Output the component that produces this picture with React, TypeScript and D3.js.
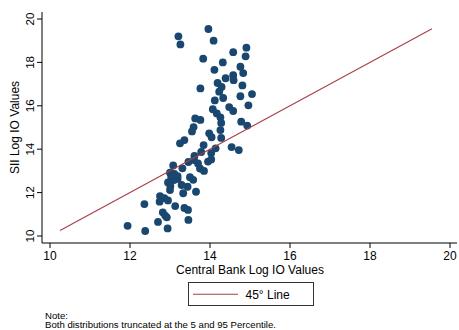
import React from "react";
import * as d3 from "d3";

// Central Bank vs. SII log IO values, one entry per observation
const cbLogIO: number[] = [
  13.21, 13.26, 13.96, 14.09, 14.91, 14.58, 14.89, 13.83, 14.32, 14.11,
  14.76, 14.83, 14.58, 14.39, 14.59, 14.19, 14.29, 14.81, 13.76, 14.23,
  14.33, 14.12, 14.76, 15.05, 14.48, 14.58, 14.96, 14.07, 14.17, 14.26,
  14.28, 14.26, 13.63, 13.76, 13.59, 13.55, 14.78, 14.93, 13.98, 14.04,
  14.28, 13.36, 13.25, 13.84, 14.14, 14.03, 14.54, 14.72, 13.78, 13.61,
  14.03, 13.95, 13.46, 13.6, 13.7, 13.75, 13.85, 13.31, 13.08, 13.0,
  13.11, 13.19, 13.03, 13.19, 13.1, 13.5, 13.58, 12.95, 13.01, 13.29,
  13.44, 13.0, 13.33, 13.65, 12.75, 12.86, 12.95, 12.74, 12.36, 13.13,
  13.36, 13.45, 12.82, 12.88, 12.92, 13.46, 12.7, 11.94, 12.94, 12.38,
];
const siiLogIO: number[] = [
  19.2, 18.83, 19.54, 19.0, 18.68, 18.47, 18.28, 18.17, 18.0, 17.66,
  17.8, 17.51, 17.41, 17.27, 17.18, 17.05, 16.87, 16.94, 16.8, 16.65,
  16.36, 16.25, 16.44, 16.54, 15.94, 15.76, 16.02, 15.84, 15.65, 15.47,
  15.21, 14.88, 15.42, 15.35, 15.02, 14.82, 15.27, 15.09, 14.73, 14.55,
  14.52, 14.42, 14.27, 14.19, 14.04, 13.82, 14.1, 13.96, 13.87, 13.69,
  13.53, 13.43, 13.41, 13.5, 13.34, 13.11, 13.0, 13.12, 13.25, 12.92,
  12.86, 12.76, 12.72, 12.63, 12.58, 12.71, 12.59, 12.47, 12.3, 12.35,
  12.27, 12.12, 11.97, 12.04, 11.84, 11.75, 11.64, 11.58, 11.47, 11.38,
  11.29, 11.2, 11.09, 10.94, 10.86, 10.74, 10.65, 10.47, 10.35, 10.23,
];

// 45-degree reference line endpoints
const lineRange: number[] = [10.25, 19.55];
const xTicks: number[] = [10, 12, 14, 16, 18, 20];
const yTicks: number[] = [10, 12, 14, 16, 18, 20];

const W = 459;
const H = 330;
const NAVY = "#1a476f";
const MAROON = "#a63f47";
const FONT = "'Liberation Sans', Arial, Helvetica, sans-serif";

export default function App() {
  const x = d3.scaleLinear().domain([10, 20]).range([50, 450]);
  const y = d3.scaleLinear().domain([10, 20]).range([236, 19]);

  const axisX = 42;
  const axisY = 243;
  const tickLen = 5;

  const diag = d3
    .line<number>()
    .x((d) => x(d))
    .y((d) => y(d))(lineRange) as string;

  return (
    <svg
      width={W}
      height={H}
      viewBox={`0 0 ${W} ${H}`}
      style={{ position: "absolute", left: 0, top: 0, background: "#fff" }}
      fontFamily={FONT}
    >
      <rect x={0} y={0} width={W} height={H} fill="#fff" />

      {/* points */}
      <g fill={NAVY}>
        {cbLogIO.map((v, i) => (
          <circle key={i} cx={x(v)} cy={y(siiLogIO[i])} r={3.9} />
        ))}
      </g>

      {/* 45 degree line */}
      <path d={diag} fill="none" stroke={MAROON} strokeWidth={1.1} />

      {/* y axis */}
      <line x1={axisX} x2={axisX} y1={12} y2={axisY} stroke="#000" strokeWidth={1} />
      {yTicks.map((t) => (
        <g key={t}>
          <line x1={axisX - tickLen} x2={axisX} y1={y(t)} y2={y(t)} stroke="#000" />
          <text
            transform={`translate(34,${y(t)}) rotate(-90)`}
            textAnchor="middle"
            fontSize={11.5}
            fill="#000"
          >
            {t}
          </text>
        </g>
      ))}
      <text
        transform={`translate(19,${(y(10) + y(20)) / 2}) rotate(-90)`}
        textAnchor="middle"
        fontSize={12}
        fill="#000"
      >
        SII Log IO Values
      </text>

      {/* x axis */}
      <line x1={axisX} x2={457} y1={axisY} y2={axisY} stroke="#000" strokeWidth={1} />
      {xTicks.map((t) => (
        <g key={t}>
          <line x1={x(t)} x2={x(t)} y1={axisY} y2={axisY + tickLen} stroke="#000" />
          <text x={x(t)} y={260} textAnchor="middle" fontSize={12} fill="#000">
            {t}
          </text>
        </g>
      ))}
      <text x={250} y={273.5} textAnchor="middle" fontSize={12} fill="#000">
        Central Bank Log IO Values
      </text>

      {/* legend */}
      <rect x={188.5} y={282.5} width={125} height={23} fill="#fff" stroke="#333" strokeWidth={1} />
      <line x1={193} x2={238} y1={294.3} y2={294.3} stroke={MAROON} strokeWidth={1.1} />
      <text x={245.5} y={298.5} fontSize={12} fill="#000">
        45° Line
      </text>

      {/* note */}
      <text x={45} y={318.5} fontSize={9.6} fill="#000">
        Note:
      </text>
      <text x={45} y={327.5} fontSize={9.6} fill="#000">
        Both distributions truncated at the 5 and 95 Percentile.
      </text>
    </svg>
  );
}
